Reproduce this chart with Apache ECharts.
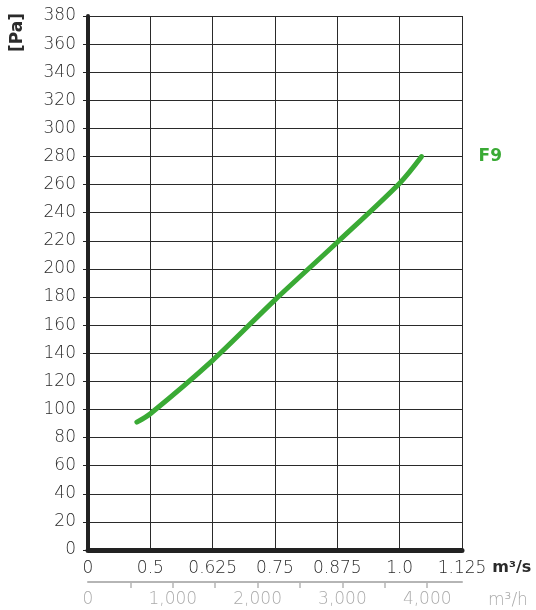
<!DOCTYPE html>
<html>
<head>
<meta charset="utf-8">
<title>F9 pressure drop</title>
<script src="https://cdn.jsdelivr.net/npm/echarts@6/dist/echarts.min.js"></script>
<style>
  html, body { margin: 0; padding: 0; background: #fff; }
  #chart { width: 536px; height: 610px; }
</style>
</head>
<body>
<div id="chart"></div>
<script>
// Airflow (m³/s) and pressure drop (Pa) of the F9 filter
const flowM3s = [0.473, 0.5, 0.625, 0.75, 0.875, 1.0, 1.044];
const pressurePa = [91, 97, 135, 178, 219, 261, 280];
const seriesName = 'F9';

// Axis tick labels
const flowTickLabels = ['0', '0.5', '0.625', '0.75', '0.875', '1.0', '1.125'];
const hourTicks = [500, 1000, 1500, 2000, 2500, 3000, 3500, 4000];
const hourLabels = [0, 1000, 2000, 3000, 4000];

const FLOW_MIN = 0.375, FLOW_STEP = 0.125, FLOW_MAX = 1.125;
const HOUR_MAX = 4410;
const GREEN = '#3aaa35';
const FONT = 'DejaVu Sans';
const TEXT = '#2b2b2b';
const GREY_TEXT = '#ababab';
const LABEL_WEIGHT = 300;

const chart = echarts.init(document.getElementById('chart'), null, { renderer: 'canvas' });

chart.setOption({
  animation: false,
  textStyle: { fontFamily: FONT },
  grid: { left: 88, top: 16, right: 74, bottom: 60, containLabel: false },
  xAxis: [
    {
      type: 'value',
      min: FLOW_MIN, max: FLOW_MAX, interval: FLOW_STEP,
      name: 'm³/s',
      nameLocation: 'end',
      nameGap: 26,
      nameTextStyle: { color: TEXT, fontSize: 16, fontWeight: 'bold', verticalAlign: 'top', padding: [10, 0, 0, 0] },
      axisLine: { show: true, onZero: false, lineStyle: { color: '#222', width: 5 } },
      axisTick: { show: false },
      axisLabel: {
        color: TEXT, fontSize: 17, fontWeight: LABEL_WEIGHT, margin: 10,
        formatter: v => flowTickLabels[Math.round((v - FLOW_MIN) / FLOW_STEP)] ?? ''
      },
      splitLine: { show: true, lineStyle: { color: '#2a2a2a', width: 1 } }
    },
    {
      type: 'value',
      position: 'bottom',
      offset: 32,
      min: 0, max: HOUR_MAX,
      name: 'm³/h',
      nameLocation: 'end',
      nameGap: 26,
      nameTextStyle: { color: GREY_TEXT, fontSize: 17, fontWeight: LABEL_WEIGHT, verticalAlign: 'top', padding: [10, 0, 0, 0] },
      axisLine: { show: true, onZero: false, lineStyle: { color: '#b5b5b5', width: 2 } },
      axisTick: { show: true, length: 6, customValues: hourTicks, lineStyle: { color: '#b5b5b5', width: 1.5 } },
      axisLabel: {
        color: GREY_TEXT, fontSize: 17, fontWeight: LABEL_WEIGHT, margin: 9,
        customValues: hourLabels,
        formatter: v => v.toLocaleString('en-US')
      },
      splitLine: { show: false }
    }
  ],
  yAxis: {
    type: 'value',
    min: 0, max: 380, interval: 20,
    axisLine: { show: true, onZero: false, lineStyle: { color: '#222', width: 4 } },
    axisTick: { show: true, length: 5, lineStyle: { color: '#222', width: 1 } },
    axisLabel: { color: TEXT, fontSize: 17, fontWeight: LABEL_WEIGHT, margin: 12 },
    splitLine: { show: true, lineStyle: { color: '#2a2a2a', width: 1 } }
  },
  graphic: [
    {
      type: 'text',
      left: 9, top: 13,
      rotation: Math.PI / 2,
      style: { text: '[Pa]', fill: TEXT, font: 'bold 17px "' + FONT + '"' }
    }
  ],
  series: [
    {
      name: seriesName,
      type: 'line',
      xAxisIndex: 0,
      data: flowM3s.map((x, i) => [x, pressurePa[i]]),
      smooth: 0.3,
      symbol: 'none',
      lineStyle: { color: GREEN, width: 5, cap: 'round', join: 'round' },
      endLabel: {
        show: true,
        formatter: seriesName,
        distance: 57,
        color: GREEN,
        fontSize: 17,
        fontWeight: 'bold'
      }
    }
  ]
});
</script>
</body>
</html>
